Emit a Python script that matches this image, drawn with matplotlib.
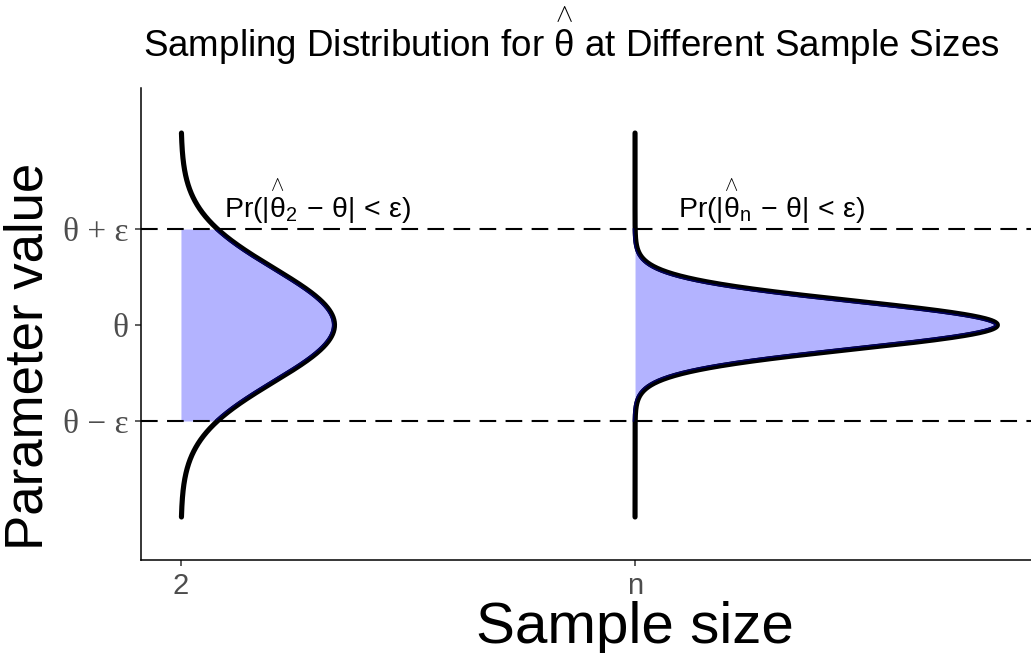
import numpy as np
import matplotlib
matplotlib.use("Agg")
import matplotlib.pyplot as plt

plt.rcParams['mathtext.fontset'] = 'custom'
plt.rcParams['mathtext.rm'] = 'Liberation Sans'
plt.rcParams['mathtext.it'] = 'Liberation Sans'
plt.rcParams['mathtext.bf'] = 'Liberation Sans:bold'
plt.rcParams['mathtext.sf'] = 'Liberation Sans'
plt.rcParams['font.family'] = ['Liberation Sans', 'DejaVu Sans']

# ---------------- data ----------------
sample_positions = [0, 1]
sample_labels = ["2", "n"]
sampling_sd = [0.59, 0.25]          # sd of theta-hat (in units of epsilon)
density_scale = 0.5                  # horizontal scaling of the density curves
theta = 0.0
epsilon = 1.0
curve_span = 2.0                     # curves drawn over theta +/- 2 epsilon
ytick_values = [theta - epsilon, theta, theta + epsilon]
ytick_labels = ["θ − ε", "θ", "θ + ε"]
annotation_labels = [r"$\mathrm{Pr}(|\overset{\wedge}{\theta}_2\,-\,\theta|\,<\,\varepsilon)$",
                     r"$\mathrm{Pr}(|\overset{\wedge}{\theta}_n\,-\,\theta|\,<\,\varepsilon)$"]
annotation_x_offset = 0.3
annotation_y = 1.12
title = r"Sampling Distribution for $\overset{\wedge}{\theta}$ at Different Sample Sizes"
xlabel = "Sample size"
ylabel = "Parameter value"

W, H = 1031, 653
fig = plt.figure(figsize=(W / 100, H / 100), dpi=100)
ax = fig.add_axes([141 / W, (H - 560) / H, (W - 141) / W, (560 - 88) / H])
ax.set_xlim(-0.088, 1.872)
ax.set_ylim(-2.448, 2.469)

def dnorm(y, mu, sd):
    return np.exp(-0.5 * ((y - mu) / sd) ** 2) / (sd * np.sqrt(2 * np.pi))

def inward(ax, xs, ys, px):
    pts = ax.transData.transform(np.column_stack([xs, ys]))
    d = np.gradient(pts, axis=0)
    n = np.column_stack([-d[:, 1], d[:, 0]])
    n /= np.linalg.norm(n, axis=1)[:, None]
    shifted = pts + n * px
    back = ax.transData.inverted().transform(shifted)
    return back[:, 0], back[:, 1]

fill_color = '#B3B3FF'
for pos, sd in zip(sample_positions, sampling_sd):
    y_all = np.linspace(theta - curve_span * epsilon, theta + curve_span * epsilon, 801)
    x_all = pos + density_scale * dnorm(y_all, theta, sd)
    y_in = np.linspace(theta - epsilon, theta + epsilon, 401)
    x_in = pos + density_scale * dnorm(y_in, theta, sd)
    ax.fill_betweenx(y_in, pos, x_in, color=fill_color, lw=0, zorder=1)
    ax.plot(x_all, y_all, color='black', lw=3.7, solid_capstyle='round', zorder=4)
    nx, ny = inward(ax, x_in, y_in, 1.7)
    ax.plot(nx, ny, color='#000060', lw=1.1, zorder=5)

for yv in [theta - epsilon, theta + epsilon]:
    ax.axhline(yv, color='black', lw=1.5, dashes=(8, 4.5), zorder=3)

for pos, lab in zip(sample_positions, annotation_labels):
    ax.text(pos + annotation_x_offset, annotation_y, lab, ha='center', va='baseline',
            fontsize=20.5, color='black', zorder=6)

for s in ['top', 'right']:
    ax.spines[s].set_visible(False)
for s in ['left', 'bottom']:
    ax.spines[s].set_linewidth(1.1)
    ax.spines[s].set_color('black')

ax.set_xticks(sample_positions)
ax.set_xticklabels(sample_labels, fontsize=21, color='#4D4D4D')
ax.set_yticks(ytick_values)
ax.set_yticklabels(ytick_labels, fontsize=24, color='#4D4D4D',
                   family=['Liberation Serif', 'DejaVu Serif'])
ax.tick_params(axis='both', length=4, width=1.1, color='#333333')
ax.tick_params(axis='x', pad=5)
ax.tick_params(axis='y', pad=5)

fig.text(143 / W, 1 - 57 / H, title, ha='left', va='baseline', fontsize=26.5)
fig.text(635 / W, 1 - 643 / H, xlabel, ha='center', va='baseline', fontsize=42)
fig.text(29 / W, 1 - 356 / H, ylabel, ha='center', va='center', rotation=90, fontsize=38)

fig.savefig("out.png", dpi=100)
